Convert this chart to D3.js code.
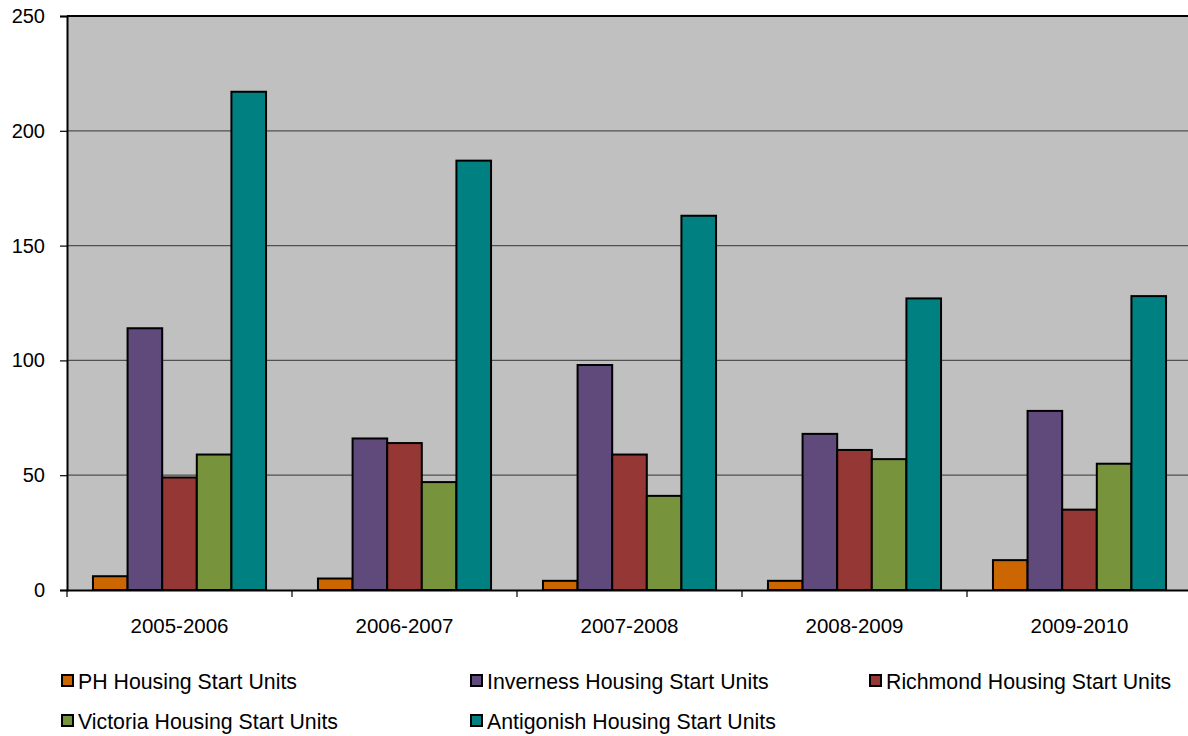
<!DOCTYPE html>
<html><head><meta charset="utf-8">
<script src="https://cdn.jsdelivr.net/npm/d3@7"></script>
<style>body{margin:0;background:#fff;} svg{display:block;font-family:"Liberation Sans",Arial,sans-serif;}</style>
</head><body>
<svg id="c" width="1188" height="736"></svg>
<script>
const categories = ["2005-2006","2006-2007","2007-2008","2008-2009","2009-2010"];
const seriesNames = ["PH Housing Start Units","Inverness Housing Start Units","Richmond Housing Start Units","Victoria Housing Start Units","Antigonish Housing Start Units"];
const phValues = [6,5,4,4,13];
const invernessValues = [114,66,98,68,78];
const richmondValues = [49,64,59,61,35];
const victoriaValues = [59,47,41,57,55];
const antigonishValues = [217,187,163,127,128];
const colors = ["#CC6600","#604A7B","#953735","#77933C","#008080"];
const yTicks = [0,50,100,150,200,250];

const series = [phValues,invernessValues,richmondValues,victoriaValues,antigonishValues];
const svg = d3.select("#c");
const L=67, R=1192, T=16, B=590;
const x = d3.scaleBand().domain(categories).range([L,R]).padding(0);
const xi = d3.scaleBand().domain(d3.range(5)).range([0,x.bandwidth()]).paddingOuter(0.75).paddingInner(0);
const y = d3.scaleLinear().domain([0,250]).range([B,T]);

svg.append("rect").attr("x",L).attr("y",T).attr("width",R-L).attr("height",B-T).attr("fill","#C0C0C0");
svg.append("g").selectAll("line").data(yTicks.filter(d=>d>0&&d<250)).join("line")
  .attr("x1",L).attr("x2",R).attr("y1",d=>y(d)).attr("y2",d=>y(d)).attr("stroke","#505050").attr("stroke-width",1.2);

const g = svg.append("g");
categories.forEach((c,ci)=>{
  series.forEach((s,si)=>{
    g.append("rect").attr("x",x(c)+xi(si)).attr("y",y(s[ci])).attr("width",xi.bandwidth()).attr("height",B-y(s[ci]))
      .attr("fill",colors[si]).attr("stroke","#000").attr("stroke-width",2);
  });
});

svg.append("line").attr("x1",L).attr("x2",R).attr("y1",T).attr("y2",T).attr("stroke","#000").attr("stroke-width",2);
const ya = svg.append("g").attr("transform",`translate(${L},0)`).call(d3.axisLeft(y).tickValues(yTicks).tickSize(7).tickPadding(15));
ya.select(".domain").attr("stroke","#000").attr("stroke-width",2);
ya.selectAll(".tick line").attr("stroke","#000").attr("stroke-width",1.2);
ya.selectAll("text").attr("font-size","20px").attr("fill","#000").attr("font-family","Liberation Sans, Arial, sans-serif");
const xa = svg.append("g").attr("transform",`translate(0,${B})`).call(d3.axisBottom(x).tickSize(0).tickPadding(28));
xa.select(".domain").attr("stroke","#000").attr("stroke-width",2);
xa.selectAll("text").attr("font-size","20.5px").attr("fill","#000").attr("font-family","Liberation Sans, Arial, sans-serif");
svg.append("g").selectAll("line").data(categories).join("line")
  .attr("x1",d=>x(d)).attr("x2",d=>x(d)).attr("y1",B).attr("y2",B+7).attr("stroke","#000").attr("stroke-width",1.2);

const legPos = [[62,681],[471,681],[870,681],[62,721],[471,721]];
const lg = svg.append("g");
seriesNames.forEach((n,i)=>{
  const [lx,ly]=legPos[i];
  lg.append("rect").attr("x",lx).attr("y",ly-6).attr("width",11).attr("height",11).attr("fill",colors[i]).attr("stroke","#000").attr("stroke-width",2);
  lg.append("text").attr("x",lx+16).attr("y",ly+8).attr("font-size","21.3px").attr("fill","#000").text(n);
});
</script>
</body></html>
